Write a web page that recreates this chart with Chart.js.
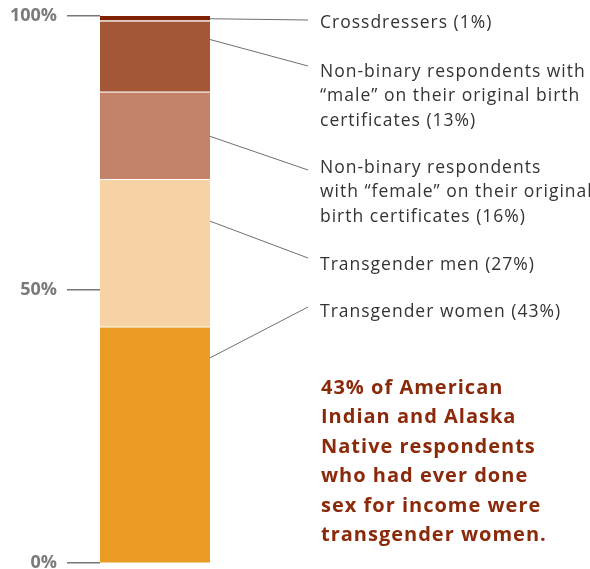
<!DOCTYPE html>
<html>
<head>
<meta charset="utf-8">
<script src="https://cdn.jsdelivr.net/npm/chart.js@4"></script>
<style>
  html, body { margin: 0; padding: 0; background: #fff; }
  #wrap { width: 590px; height: 569px; position: relative; }
</style>
</head>
<body>
<div id="wrap"><canvas id="myChart" width="590" height="569"></canvas></div>
<script>
const groups = [
  "Transgender women",
  "Transgender men",
  "Non-binary respondents with \u201cfemale\u201d on their original birth certificates",
  "Non-binary respondents with \u201cmale\u201d on their original birth certificates",
  "Crossdressers"
];
const shares = [43, 27, 16, 13, 1];
const segColors = ["#e99b24", "#f6d2a4", "#c48369", "#a45737", "#7f2200"];
const yTicks = [0, 50, 100];

// label text, broken into lines as set beside the bar
const labelLines = [
  ["Transgender women (43%)"],
  ["Transgender men (27%)"],
  ["Non-binary respondents", "with \u201cfemale\u201d on their original", "birth certificates (16%)"],
  ["Non-binary respondents with", "\u201cmale\u201d on their original birth", "certificates (13%)"],
  ["Crossdressers (1%)"]
];
// where each leader leaves the bar (in % units) and the first text baseline
const leaderFrom = [37.5, 62.5, 78, 95.7, 99.5];
const labelTop = [312, 265, 168, 72, 23];
const leaderTo = [307, 258, 170, 66, 20];

const note = [
  "43% of American",
  "Indian and Alaska",
  "Native respondents",
  "who had ever done",
  "sex for income were",
  "transgender women."
];

const leaders = {
  id: "leaders",
  afterDraw(chart) {
    const ctx = chart.ctx;
    const y = chart.scales.y;
    const right = chart.chartArea.right;
    ctx.save();
    ctx.strokeStyle = "#6f6f6f";
    ctx.lineWidth = 1;
    ctx.fillStyle = "#333";
    ctx.font = "17.5px 'Open Sans'";
    ctx.letterSpacing = "1px";
    ctx.textBaseline = "middle";
    ctx.textAlign = "left";
    shares.forEach((v, i) => {
      ctx.beginPath();
      ctx.moveTo(right, y.getPixelForValue(leaderFrom[i]));
      ctx.lineTo(308, leaderTo[i]);
      ctx.stroke();
      labelLines[i].forEach((t, k) => ctx.fillText(t, 320, labelTop[i] + k * 24.5));
    });
    ctx.fillStyle = "#8a2a0a";
    ctx.font = "bold 20px 'Open Sans'";
    ctx.letterSpacing = "1px";
    note.forEach((t, k) => ctx.fillText(t, 321, 388 + k * 29.5));
    ctx.restore();
  }
};

new Chart("myChart", {
  type: "bar",
  data: {
    labels: [""],
    datasets: groups.map((g, i) => ({
      label: g,
      data: [shares[i]],
      backgroundColor: segColors[i],
      borderColor: "#ffffff",
      borderWidth: i === 0 ? 0 : { top: 0, bottom: 1.5, left: 0, right: 0 },
      borderSkipped: false,
      barPercentage: 1,
      categoryPercentage: 1
    }))
  },
  options: {
    responsive: false,
    animation: false,
    layout: { padding: { top: 16, bottom: 6, left: 0, right: 380 } },
    plugins: { legend: { display: false }, tooltip: { enabled: false } },
    scales: {
      x: { stacked: true, display: false },
      y: {
        stacked: true,
        min: 0,
        max: 100,
        afterBuildTicks(s) { s.ticks = yTicks.map(v => ({ value: v })); },
        afterFit(s) { s.width = 100; s.paddingTop = 0; s.paddingBottom = 0; },
        border: { display: false },
        grid: {
          drawOnChartArea: false,
          drawTicks: true,
          tickLength: 33,
          tickColor: "#777",
          lineWidth: 1.5
        },
        ticks: {
          padding: 10,
          color: "#7a7a7a",
          font: { family: "Open Sans", weight: "bold", size: 18 },
          callback: v => v + "%"
        }
      }
    }
  },
  plugins: [leaders]
});
</script>
</body>
</html>
